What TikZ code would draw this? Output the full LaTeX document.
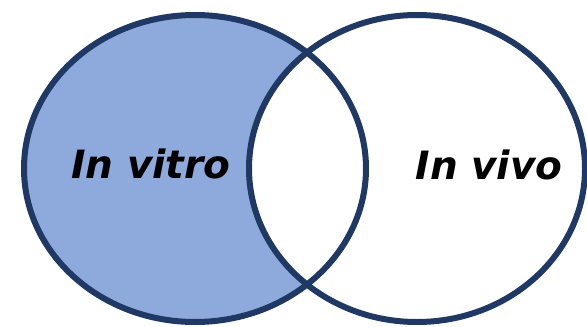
\documentclass[tikz,border=0pt]{standalone}
\usepackage{fontspec}
\setmainfont{DejaVu Sans}
\definecolor{vennBlue}{HTML}{8EA9DB}
\definecolor{vennNavy}{HTML}{203864}

\begin{document}
\begin{tikzpicture}
[x=1pt,y=-1pt,
  setDecorate/.style={draw=vennNavy,line width=6pt},%
  labelDecorate/.style={font=\fontsize{39}{40}\selectfont\bfseries\itshape,anchor=base,inner sep=0pt}]
\useasboundingbox (0,0) rectangle (587,327);
%% sets
\fill[vennBlue] (195,168.5) ellipse [x radius=171,y radius=153.5];
\begin{scope}
  \clip (195,168.5) ellipse [x radius=171,y radius=153.5];
  \fill[white] (417,168.5) ellipse [x radius=168,y radius=153.5];
\end{scope}
\draw[setDecorate] (195,168.5) ellipse [x radius=171,y radius=153.5];
\draw[setDecorate] (417,168.5) ellipse [x radius=168,y radius=153.5];
%% set labels
\node (vitro) at (151,178) [labelDecorate] {In vitro};
\node (vivo) at (489,179) [labelDecorate] {In vivo};
\end{tikzpicture}
\end{document}
